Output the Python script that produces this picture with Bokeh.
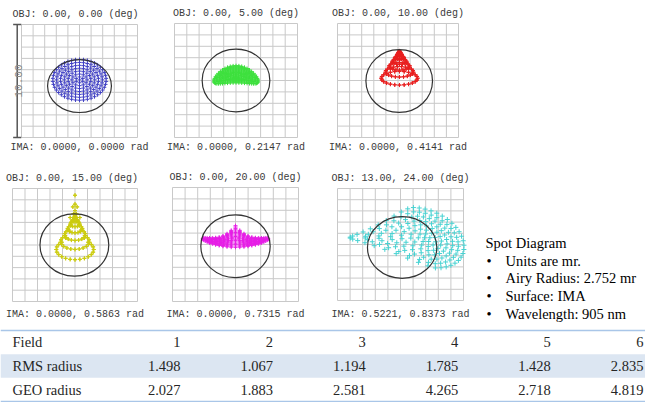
import numpy as np
from bokeh.plotting import figure
from bokeh.layouts import column, row
from bokeh.models import Range1d, ColumnDataSource
from bokeh.core.properties import value
from bokeh.embed import file_html
from bokeh.resources import INLINE

# ---------------- data ----------------
OBJ_X = [0.00, 0.00, 0.00, 0.00, 0.00, 13.00]
OBJ_Y = [0.00, 5.00, 10.00, 15.00, 20.00, 24.00]
IMA_X = [0.0000, 0.0000, 0.0000, 0.0000, 0.0000, 0.5221]
IMA_Y = [0.0000, 0.2147, 0.4141, 0.5863, 0.7315, 0.8373]
FIELDS = [1, 2, 3, 4, 5, 6]
RMS_RADIUS = [1.498, 1.067, 1.194, 1.785, 1.428, 2.835]
GEO_RADIUS = [2.027, 1.883, 2.581, 4.265, 2.718, 4.819]
AIRY_RADIUS = 2.752
SCALE_BAR = 10.00
UNITS = "mr"
SURFACE = "IMA"
WAVELENGTH_NM = 905
PUPIL_RINGS = [7, 8, 8, 8, 8, 7]
AIRY_CX = [0.0, 0.0, 0.1, -0.05, 0.0, 0.13]
AIRY_CY = [-0.45, 0.0, -0.05, 0.0, -0.15, -0.27]
AIRY_SQUASH = [0.85, 1.0, 1.0, 1.0, 1.0, 1.0]
SPOT_COLORS = ["#4040c4", "#3ee03e", "#e82020", "#cccc10", "#e61ee6", "#46d2d2"]
ROW_LABELS = ["Field", "RMS radius", "GEO radius"]
NOTE_LINES = ["Spot Diagram", f"Units are {UNITS}.", f"Airy Radius: {AIRY_RADIUS} {UNITS}",
              f"Surface: {SURFACE}", f"Wavelength: {WAVELENGTH_NM} nm"]

# aberration coefficients (mr) describing each spot shape
DEFOCUS_1 = dict(sx=2.3, sy=1.8, y0=0.1)
DOME_2 = dict(sx=1.8, y0=0.55, b=0.75, c=-0.6)
COMA_3 = dict(x0=0.12, k=1.5, ya=2.6, a=2.4, b=0.6)
COMA_4 = dict(k=1.5, ya=2.6, a=3.0, b=0.9, tail=3.9)
HAT_5 = dict(sx=2.6, y0=0.1, b=0.35, c=0.4, h=1.2)
FAN_6 = dict(xc=1.9, rx=3.0, stretch=0.97, y0=0.6, ry=2.7, pinch=0.8, shear=-0.35, twist=0.5)


def hexapolar(n):
    px, py = [0.0], [0.0]
    for k in range(1, n + 1):
        rho = k / n
        phi = np.arange(6 * k) * 2 * np.pi / (6 * k)
        px.extend(rho * np.sin(phi))
        py.extend(rho * np.cos(phi))
    return np.array(px), np.array(py)


def spots(i):
    px, py = hexapolar(PUPIL_RINGS[i])
    r2 = px ** 2 + py ** 2
    if i == 0:
        c = DEFOCUS_1
        return c["sx"] * px, c["y0"] + c["sy"] * py
    if i == 1:
        c = DOME_2
        return c["sx"] * px, c["y0"] + c["b"] * py + c["c"] * px ** 2
    if i == 2:
        c = COMA_3
        return c["x0"] + c["k"] * 2 * px * py, c["ya"] - (c["a"] * r2 + c["b"] * (py ** 2 - px ** 2))
    if i == 3:
        c = COMA_4
        s2 = np.where(r2 > 0, px ** 2 / np.where(r2 > 0, r2, 1), 0)
        x = c["k"] * 2 * px * py
        y = c["ya"] - (c["a"] * r2 + c["b"] * (py ** 2 - px ** 2)) + c["tail"] * r2 * s2 ** 40
        return x, y
    if i == 4:
        c = HAT_5
        y = c["y0"] + c["b"] * py + c["c"] * px ** 2 + c["h"] * (1 - np.abs(px)) ** 3 * (1 + py) / 2
        return c["sx"] * px, y
    c = FAN_6
    # rotate the pupil with radius so that the rings do not stay concentric
    ang = c["twist"] * r2
    u = py * np.cos(ang) - px * np.sin(ang)
    v = py * np.sin(ang) + px * np.cos(ang)
    neg = np.maximum(0, -u)
    y = c["y0"] + c["ry"] * v * (1 - c["pinch"] * neg ** 1.5)
    x = c["xc"] + c["rx"] * u * (1 + c["stretch"] * neg) + c["shear"] * (y - c["y0"])
    return x, y


GRID_TICKS = np.arange(-SCALE_BAR / 2, SCALE_BAR / 2 + 1)
MONO = "Liberation Mono"
SERIF = "Liberation Serif"


def blank(w, h, xr, yr):
    p = figure(width=w, height=h, x_range=xr, y_range=yr, title=None,
               toolbar_location=None, output_backend="svg",
               x_axis_location=None, y_axis_location=None,
               min_border_left=0, min_border_right=0, min_border_top=0, min_border_bottom=0)
    p.frame_align = False
    p.outline_line_color = None
    p.grid.grid_line_color = None
    p.background_fill_color = "white"
    p.border_fill_color = "white"
    return p


def spot_fig(i, w, h, gl, gw, gt, gh, bottom_gap, title_dx=0.0):
    half = SCALE_BAR / 2
    sx = gw / SCALE_BAR
    sy = gh / SCALE_BAR
    xr = Range1d(-half - gl / sx, half + (w - gl - gw) / sx)
    yr = Range1d(-half - (h - gt - gh) / sy, half + gt / sy)
    p = blank(w, h, xr, yr)
    lo, hi = GRID_TICKS[0], GRID_TICKS[-1]
    n = len(GRID_TICKS)
    p.segment(x0=GRID_TICKS, x1=GRID_TICKS, y0=[lo] * n, y1=[hi] * n, line_color="#c9c9c9", line_width=1)
    p.segment(x0=[lo] * n, x1=[hi] * n, y0=GRID_TICKS, y1=GRID_TICKS, line_color="#c9c9c9", line_width=1)
    x, y = spots(i)
    p.scatter(x, y, marker="cross", size=5 if i == 5 else 4, line_color=SPOT_COLORS[i], line_width=1)
    p.ellipse(x=[AIRY_CX[i]], y=[AIRY_CY[i]], width=[2 * AIRY_RADIUS],
              height=[2 * AIRY_RADIUS * AIRY_SQUASH[i]], fill_color=None,
              line_color="#333333", line_width=1.2)
    p.text(x=[title_dx / sx, 0], y=[hi + 10 / sy, lo - bottom_gap / sy],
           text=[f"OBJ: {OBJ_X[i]:.2f}, {OBJ_Y[i]:.2f} (deg)", f"IMA: {IMA_X[i]:.4f}, {IMA_Y[i]:.4f} rad"],
           text_align="center", text_baseline="middle", text_font=value(MONO),
           text_font_size="10px", text_color="#3a3a3a")
    return p


# row 1 (height 160)
f1 = spot_fig(0, 160, 160, 21, 116, 24, 113, 10, title_dx=-4)
bar_x = -5.37
f1.segment(x0=[bar_x], x1=[bar_x], y0=[GRID_TICKS[0]], y1=[GRID_TICKS[-1]], line_color="#555555", line_width=1.5)
f1.segment(x0=[bar_x - 0.35] * 2, x1=[bar_x + 0.35] * 2, y0=[GRID_TICKS[0], GRID_TICKS[-1]],
           y1=[GRID_TICKS[0], GRID_TICKS[-1]], line_color="#555555", line_width=1.5)
f1.text(x=[-5.22], y=[0], text=[f"{SCALE_BAR:.2f}"], angle=np.pi / 2, text_align="center",
        text_baseline="middle", text_font=value(MONO), text_font_size="11px", text_color="#8a8a8a")
f2 = spot_fig(1, 160, 160, 14, 123, 23, 114, 10)
f3 = spot_fig(2, 170, 160, 17, 121, 23, 114, 10)
# row 2 (height 165)
f4 = spot_fig(3, 160, 165, 12, 125, 28, 113, 13, title_dx=-3)
f5 = spot_fig(4, 160, 165, 12, 126, 27, 114, 13)
f6 = spot_fig(5, 155, 165, 17, 126, 28, 112, 14)

# ---- notes panel ----
ft = blank(170, 165, Range1d(0, 170), Range1d(4.676, -4.699))
rows = list(range(len(NOTE_LINES)))
ft.text(x=[10], y=[rows[0]], text=[NOTE_LINES[0]], text_font=value(SERIF), text_font_size="14.5px",
        text_color="black", text_align="left", text_baseline="middle")
ft.text(x=[11] * 4, y=rows[1:], text=["\u2022"] * 4, text_font=value(SERIF), text_font_size="14.5px",
        text_color="black", text_align="left", text_baseline="middle")
ft.text(x=[30] * 4, y=rows[1:], text=NOTE_LINES[1:], text_font=value(SERIF), text_font_size="14.5px",
        text_color="black", text_align="left", text_baseline="middle")

# ---- table ----
XL, XR = -0.944, 6.022
tb = blank(645, 77, Range1d(XL, XR), Range1d(2.553, -0.723))
tb.hbar(y=[1], height=1, left=XL, right=XR, fill_color="#dce6f2", line_color=None)
tb.hspan(y=[-0.5, 2.5], line_color="#a9c6e8", line_width=1.5)
tb.text(x=[-0.814] * 3, y=[0, 1, 2], text=ROW_LABELS, text_font=value(SERIF), text_font_size="14.5px",
        text_color="#262626", text_align="left", text_baseline="middle")
src = ColumnDataSource(dict(
    x=FIELDS * 3,
    y=[0] * 6 + [1] * 6 + [2] * 6,
    t=[str(f) for f in FIELDS] + [f"{v:.3f}" for v in RMS_RADIUS] + [f"{v:.3f}" for v in GEO_RADIUS],
))
tb.text(x="x", y="y", text="t", source=src, text_font=value(SERIF), text_font_size="14.5px",
        text_color="#262626", text_align="right", text_baseline="middle")

layout = column(row(f1, f2, f3), row(f4, f5, f6, ft), tb)
open("out.html", "w").write(file_html(layout, INLINE))
